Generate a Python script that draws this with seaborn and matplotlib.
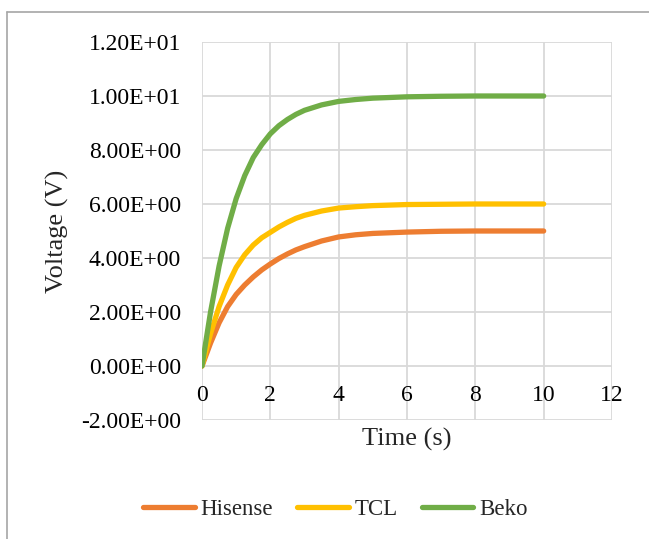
import matplotlib
matplotlib.use("Agg")
import matplotlib.pyplot as plt
from matplotlib.lines import Line2D
import numpy as np
import pandas as pd
import seaborn as sns

# ---- data ----
time_s = [0, 0.25, 0.5, 0.75, 1.0, 1.25, 1.5, 1.75, 2.0, 2.25, 2.5, 2.75, 3.0, 3.5, 4.0, 4.5, 5, 6, 7, 8, 9, 10]
hisense = [0, 0.85, 1.6, 2.2, 2.65, 3.0, 3.3, 3.56, 3.78, 3.98, 4.15, 4.3, 4.42, 4.63, 4.78, 4.86, 4.91, 4.96, 4.99, 5.0, 5.0, 5.0]
tcl = [0, 1.2, 2.2, 3.0, 3.65, 4.12, 4.48, 4.75, 4.95, 5.15, 5.32, 5.47, 5.58, 5.74, 5.85, 5.9, 5.94, 5.98, 5.99, 6.0, 6.0, 6.0]
beko = [0, 2.0, 3.7, 5.1, 6.2, 7.05, 7.72, 8.2, 8.6, 8.9, 9.13, 9.32, 9.47, 9.67, 9.8, 9.87, 9.92, 9.97, 9.99, 10.0, 10.0, 10.0]
series_names = ["Hisense", "TCL", "Beko"]
colors = ["#ED7D31", "#FFC000", "#70AD47"]
x_ticks = [0, 2, 4, 6, 8, 10, 12]
y_ticks = [-2, 0, 2, 4, 6, 8, 10, 12]
y_tick_labels = ["-2.00E+00", "0.00E+00", "2.00E+00", "4.00E+00", "6.00E+00",
                 "8.00E+00", "1.00E+01", "1.20E+01"]

df = pd.concat([
    pd.DataFrame({"Time": time_s, "Voltage": vals, "Series": name})
    for name, vals in zip(series_names, [hisense, tcl, beko])
], ignore_index=True)

sns.set_style("white")
plt.rcParams["font.family"] = ["Liberation Serif", "DejaVu Serif"]

W, H = 649, 539
fig = plt.figure(figsize=(W / 100, H / 100), dpi=100)
L, R, B, T = 202, 612, 420, 42
ax = fig.add_axes([L / W, 1 - B / H, (R - L) / W, (B - T) / H])

sns.lineplot(data=df, x="Time", y="Voltage", hue="Series", hue_order=series_names,
             palette=colors, linewidth=3.8, ax=ax, legend=False, sort=False,
             solid_capstyle="round", solid_joinstyle="round")

ax.set_xlim(0, 12)
ax.set_ylim(-2, 12)
ax.set_xticks(x_ticks)
ax.set_yticks(y_ticks)
ax.set_yticklabels(y_tick_labels)
ax.grid(True, color="#D9D9D9", linewidth=1.3)
ax.set_axisbelow(True)
for s in ["top", "right", "left", "bottom"]:
    ax.spines[s].set_visible(False)
ax.spines["bottom"].set_position(("data", 0))
ax.tick_params(axis="both", length=0, labelsize=17, colors="black")
ax.tick_params(axis="x", pad=14)
ax.tick_params(axis="y", pad=15)

ax.set_xlabel("Time (s)", fontsize=19)
ax.xaxis.set_label_coords(0.5, (B - 439) / (B - T))
ax.xaxis.label.set_va("center")
ax.set_ylabel("Voltage (V)", fontsize=19)
ax.yaxis.set_label_coords((57 - L) / (R - L), 0.5)
ax.yaxis.label.set_va("center")

handles = [Line2D([0], [0], color=c, linewidth=3.8, solid_capstyle="round") for c in colors]
fig.legend(handles, series_names, loc="center", bbox_to_anchor=(335.5 / W, 1 - 509 / H),
           ncol=3, frameon=False, fontsize=16.5, handlelength=2.25, handletextpad=0.25,
           columnspacing=1.05)

# chart-area border (left and top edges visible)
fig.add_artist(Line2D([7 / W, 7 / W], [0, 1 - 12 / H], transform=fig.transFigure,
                      color="#A6A6A6", linewidth=1.2))
fig.add_artist(Line2D([7 / W, 1], [1 - 12 / H, 1 - 12 / H], transform=fig.transFigure,
                      color="#A6A6A6", linewidth=1.2))

fig.savefig("out.png", dpi=100, facecolor="white")
